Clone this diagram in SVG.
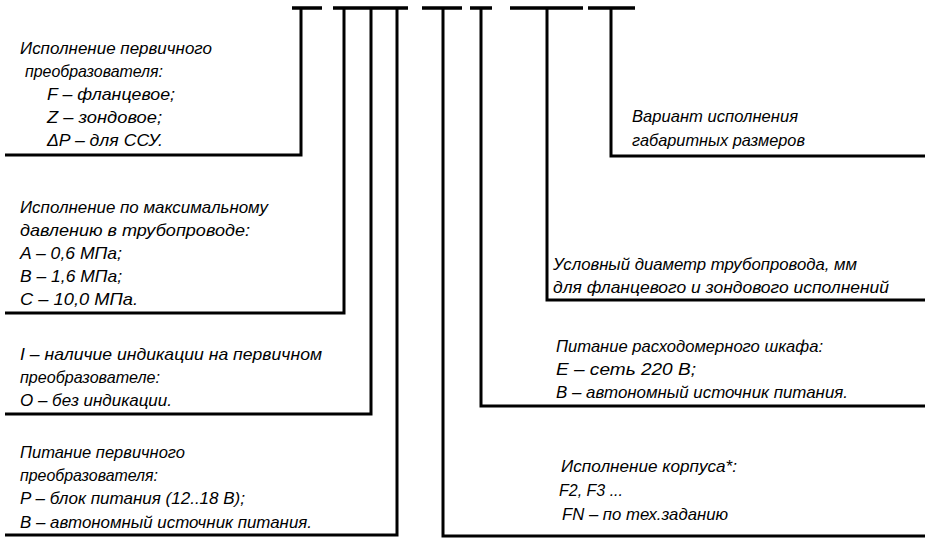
<svg xmlns="http://www.w3.org/2000/svg" width="925" height="538" viewBox="0 0 925 538">
<style>
.t{font-family:"Liberation Sans","DejaVu Sans",sans-serif;font-style:italic;font-size:17px;fill:#000}
.c{fill:none;stroke:#000;stroke-width:3;stroke-linecap:butt;stroke-linejoin:miter}
.b{fill:none;stroke:#000;stroke-width:3.5}
</style>
<rect width="925" height="538" fill="#fff"/>
<g id="connectors">
<path class="b" d="M292,8H322 M333,8H408 M422,8H462 M470,8H492 M510,8H583 M588,8H635"/>
<path class="c" d="M301,8V155H5"/>
<path class="c" d="M344,8V313H5"/>
<path class="c" d="M371,8V414H5"/>
<path class="c" d="M397,8V535H5"/>
<path class="c" d="M443,8V536H925"/>
<path class="c" d="M481,8V406H925"/>
<path class="c" d="M547,8V300H925"/>
<path class="c" d="M611,8V156H925"/>
</g>
<g id="node-sensor">
<text class="t" x="20" y="54" textLength="192" lengthAdjust="spacingAndGlyphs">Исполнение первичного</text>
<text class="t" x="25" y="77" textLength="138" lengthAdjust="spacingAndGlyphs">преобразователя:</text>
<text class="t" x="47" y="100" textLength="128" lengthAdjust="spacingAndGlyphs">F – фланцевое;</text>
<text class="t" x="47" y="123" textLength="115" lengthAdjust="spacingAndGlyphs">Z – зондовое;</text>
<text class="t" x="47" y="146" textLength="116" lengthAdjust="spacingAndGlyphs">ΔP – для ССУ.</text>
</g>
<g id="node-pressure">
<text class="t" x="20" y="213" textLength="248" lengthAdjust="spacingAndGlyphs">Исполнение по максимальному</text>
<text class="t" x="20" y="236" textLength="230" lengthAdjust="spacingAndGlyphs">давлению в трубопроводе:</text>
<text class="t" x="20" y="259" textLength="102" lengthAdjust="spacingAndGlyphs">A – 0,6 МПа;</text>
<text class="t" x="20" y="282" textLength="102" lengthAdjust="spacingAndGlyphs">B – 1,6 МПа;</text>
<text class="t" x="20" y="305" textLength="118" lengthAdjust="spacingAndGlyphs">C – 10,0 МПа.</text>
</g>
<g id="node-indication">
<text class="t" x="20" y="360" textLength="302" lengthAdjust="spacingAndGlyphs">I – наличие индикации на первичном</text>
<text class="t" x="20" y="383" textLength="140" lengthAdjust="spacingAndGlyphs">преобразователе:</text>
<text class="t" x="20" y="406" textLength="152" lengthAdjust="spacingAndGlyphs">O – без индикации.</text>
</g>
<g id="node-sensor-power">
<text class="t" x="20" y="458" textLength="165" lengthAdjust="spacingAndGlyphs">Питание первичного</text>
<text class="t" x="20" y="481" textLength="138" lengthAdjust="spacingAndGlyphs">преобразователя:</text>
<text class="t" x="20" y="504" textLength="225" lengthAdjust="spacingAndGlyphs">P – блок питания (12..18 В);</text>
<text class="t" x="20" y="528" textLength="292" lengthAdjust="spacingAndGlyphs">В – автономный источник питания.</text>
</g>
<g id="node-dimensions">
<text class="t" x="632" y="122" textLength="166" lengthAdjust="spacingAndGlyphs">Вариант исполнения</text>
<text class="t" x="632" y="146" textLength="173" lengthAdjust="spacingAndGlyphs">габаритных размеров</text>
</g>
<g id="node-diameter">
<text class="t" x="553" y="270" textLength="304" lengthAdjust="spacingAndGlyphs">Условный диаметр трубопровода, мм</text>
<text class="t" x="553" y="293" textLength="336" lengthAdjust="spacingAndGlyphs">для фланцевого и зондового исполнений</text>
</g>
<g id="node-cabinet-power">
<text class="t" x="556" y="352" textLength="267" lengthAdjust="spacingAndGlyphs">Питание расходомерного шкафа:</text>
<text class="t" x="556" y="375" textLength="140" lengthAdjust="spacingAndGlyphs">E – сеть 220 В;</text>
<text class="t" x="556" y="398" textLength="292" lengthAdjust="spacingAndGlyphs">В – автономный источник питания.</text>
</g>
<g id="node-housing">
<text class="t" x="561" y="472" textLength="176" lengthAdjust="spacingAndGlyphs">Исполнение корпуса*:</text>
<text class="t" x="559" y="496" textLength="64" lengthAdjust="spacingAndGlyphs">F2, F3 ...</text>
<text class="t" x="562" y="520" textLength="166" lengthAdjust="spacingAndGlyphs">FN – по тех.заданию</text>
</g>
</svg>
